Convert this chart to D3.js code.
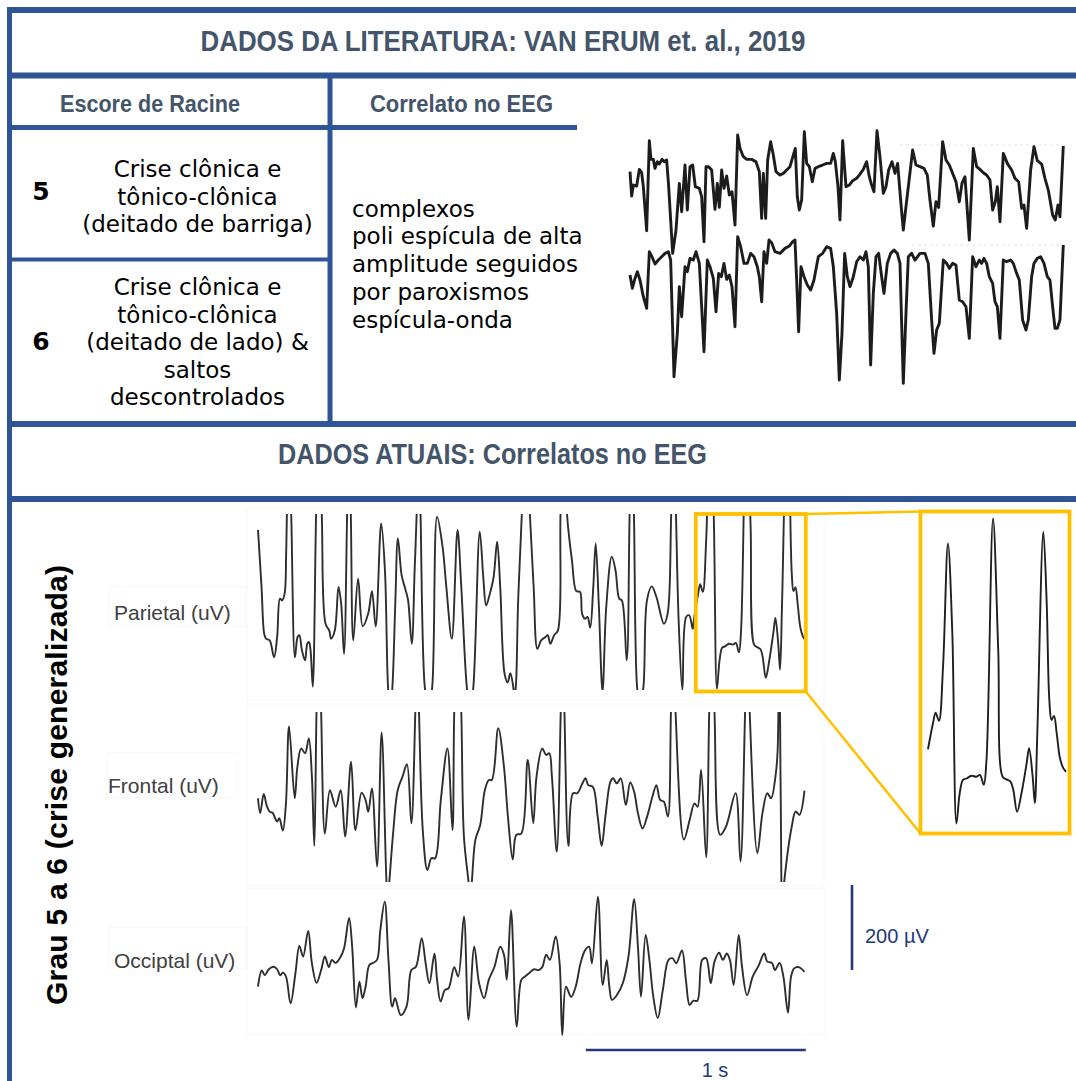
<!DOCTYPE html>
<html>
<head>
<meta charset="utf-8">
<script src="https://cdn.jsdelivr.net/npm/d3@7"></script>
<style>
  html, body { margin: 0; padding: 0; background: #fff; }
  svg { display: block; }
</style>
</head>
<body>
<svg id="fig" width="1076" height="1081" viewBox="0 0 1076 1081"></svg>
<script>
// ---------------- text content ----------------
const literatureTitle = "DADOS DA LITERATURA: VAN ERUM et. al., 2019";
const tableHeaders = ["Escore de Racine", "Correlato no EEG"];
const racineScores = ["5", "6"];
const racineDescriptions = [
  ["Crise clônica e", "tônico-clônica", "(deitado de barriga)"],
  ["Crise clônica e", "tônico-clônica", "(deitado de lado) &", "saltos", "descontrolados"]
];
const eegCorrelate = ["complexos", "poli espícula de alta", "amplitude seguidos", "por paroxismos", "espícula-onda"];
const currentTitle = "DADOS ATUAIS: Correlatos no EEG";
const gradeLabel = "Grau 5 a 6 (crise generalizada)";
const channelNames = ["Parietal (uV)", "Frontal (uV)", "Occiptal (uV)"];
const voltageBarValue = 200;      // µV
const voltageBarLabel = "200 µV";
const timeBarValue = 1000;        // ms
const timeBarLabel = "1 s";
const zoomWindow = [1990, 2490];  // ms, segment magnified on the right
const insetStart = 1982;          // ms, first sample drawn in the magnified view

// ---------------- literature traces (sample index, amplitude a.u.) ----------------
const literatureUpper = [
  [0,45],[5,-28],[10,5],[20,2],[28,52],[35,42],[40,0],[50,-132],[58,138],[63,82],[70,82],[75,55],
  [82,75],[88,68],[96,82],[103,75],[110,80],[116,0],[128,-200],[138,-130],[148,10],[155,-75],[165,65],
  [172,-70],[180,60],[188,65],[196,0],[208,-5],[215,-30],[222,-165],[228,60],[236,60],[245,50],[255,-68],
  [262,10],[268,-62],[275,50],[282,-5],[290,32],[298,-25],[306,-15],[315,-115],[323,155],[330,115],
  [340,90],[350,82],[365,82],[378,75],[388,45],[395,-95],[400,40],[407,-95],[413,80],[422,135],[430,95],
  [438,45],[450,35],[460,40],[470,50],[480,60],[490,95],[496,115],[502,-30],[508,-70],[515,-40],[523,165],
  [530,70],[538,60],[547,15],[555,55],[565,60],[578,65],[590,70],[602,70],[610,100],[616,75],[624,0],
  [630,-100],[638,138],[648,0],[658,5],[668,18],[680,25],[690,38],[700,52],[710,75],[718,30],[725,5],
  [732,-15],[741,168],[750,90],[760,-20],[768,0],[776,50],[786,75],[795,40],[803,70],[812,-40],[820,-130],
  [828,-60],[848,110],[858,65],[870,60],[882,55],[892,35],[900,-40],[910,-118],[918,-45],[926,-62],
  [938,135],[948,80],[958,65],[968,40],[978,15],[988,-45],[996,10],[1005,30],[1018,-160],[1030,115],
  [1040,60],[1050,52],[1060,42],[1070,35],[1080,20],[1088,-70],[1096,-45],[1102,0],[1110,-105],[1120,100],
  [1132,70],[1145,50],[1155,25],[1166,15],[1175,-65],[1182,-55],[1190,-125],[1202,50],[1212,120],[1222,78],
  [1235,68],[1245,25],[1255,-10],[1268,-85],[1276,-100],[1284,-55],[1290,-90],[1300,122]
];
const literatureLower = [
  [0,5],[7,-35],[14,-8],[22,15],[30,-10],[40,-60],[50,-95],[58,75],[66,60],[75,38],[85,50],[95,60],
  [105,70],[115,75],[122,50],[132,-300],[142,-170],[148,-30],[155,-120],[165,30],[172,15],[180,55],
  [190,50],[198,75],[208,40],[215,-90],[222,-225],[232,50],[240,30],[250,-5],[258,-105],[266,10],[274,0],
  [282,40],[290,-8],[298,5],[306,-30],[315,-150],[323,120],[332,90],[342,40],[352,40],[362,70],[372,60],
  [382,30],[388,0],[395,-75],[402,75],[410,40],[417,110],[425,102],[435,75],[450,70],[465,85],[478,92],
  [488,105],[495,110],[500,-10],[506,-165],[513,30],[522,0],[532,-25],[542,-40],[552,-10],[565,60],
  [578,70],[590,90],[602,85],[610,30],[620,-110],[628,-310],[636,-170],[644,70],[652,0],[660,-30],
  [670,0],[680,45],[690,60],[700,50],[708,75],[715,30],[722,-265],[730,-50],[738,60],[746,70],[755,0],
  [762,-50],[772,40],[782,70],[792,80],[802,70],[810,40],[820,-320],[828,-110],[835,60],[845,70],
  [855,50],[870,70],[885,70],[895,40],[905,-130],[912,-230],[920,-160],[928,-140],[940,50],[950,40],
  [958,25],[968,40],[978,35],[988,-70],[998,-75],[1008,-90],[1018,-185],[1028,60],[1038,30],[1048,50],
  [1055,40],[1062,55],[1070,40],[1078,0],[1088,-20],[1095,-75],[1102,-90],[1110,-185],[1120,50],
  [1130,45],[1142,50],[1150,40],[1160,10],[1168,-10],[1178,-130],[1188,-160],[1195,-130],[1205,0],
  [1212,40],[1222,55],[1232,60],[1242,40],[1252,0],[1260,-10],[1268,-90],[1275,-155],[1282,-155],
  [1290,-130],[1300,95]
];

// ---------------- recorded EEG (time ms, voltage µV) ----------------
const parietalTrace = [
  [0,165],[16,31],[28,-79],[36,-91],[53,-95],[73,-135],[87,-87],[100,3],[109,-1],[121,15],[128,110],
  [139,400],[151,200],[168,-135],[180,-87],[188,-83],[200,-119],[214,-142],[224,-103],[232,-99],
  [239,-119],[249,-204],[264,200],[276,430],[290,200],[307,-56],[324,-72],[332,-91],[349,-72],[366,31],
  [378,-9],[391,-127],[405,200],[413,420],[422,200],[433,-95],[455,50],[476,-62],[501,-32],[518,21],
  [535,-62],[560,180],[577,70],[591,-204],[601,-260],[611,-204],[624,-9],[636,145],[653,58],[670,25],
  [682,0],[699,-103],[712,70],[721,200],[731,420],[739,200],[758,-204],[775,-260],[792,-204],[814,196],
  [839,125],[856,31],[881,-91],[907,165],[924,31],[949,-204],[964,-260],[979,-204],[1008,161],[1025,46],
  [1037,-13],[1054,15],[1071,54],[1087,137],[1101,31],[1121,-174],[1135,-194],[1147,-172],[1160,-204],
  [1165,-230],[1172,-204],[1182,-9],[1199,200],[1218,450],[1236,200],[1253,31],[1270,-115],[1287,-95],
  [1307,-87],[1317,-83],[1329,-103],[1346,-83],[1363,-72],[1375,200],[1388,430],[1405,200],[1414,149],
  [1427,94],[1447,21],[1464,19],[1473,-32],[1486,-44],[1498,-40],[1510,-65],[1524,31],[1535,133],
  [1549,-9],[1566,-215],[1583,-16],[1608,102],[1625,70],[1642,3],[1654,-1],[1676,-142],[1689,200],
  [1699,430],[1709,200],[1723,-204],[1736,-250],[1752,-204],[1768,-1],[1790,32],[1811,7],[1845,-56],
  [1862,-32],[1878,200],[1889,420],[1900,200],[1912,-48],[1929,-212],[1946,-40],[1960,-36],[1976,-68],
  [1982,-44],[2000,13],[2010,37],[2022,19],[2037,139],[2055,413],[2071,213],[2086,-209],[2098,-142],
  [2110,-112],[2123,-109],[2141,-103],[2159,-105],[2172,-101],[2186,-123],[2196,-68],[2220,468],
  [2239,176],[2255,-105],[2269,-111],[2284,-116],[2294,-134],[2308,-183],[2324,-142],[2343,-75],
  [2352,-42],[2365,-105],[2373,-164],[2382,-9],[2404,439],[2416,287],[2426,65],[2434,21],[2443,30],
  [2453,-9],[2465,-64],[2477,-86],[2487,-94]
];
const frontalTrace = [
  [0,-3],[10,-38],[26,7],[40,-21],[54,-35],[66,-37],[78,-50],[87,-58],[97,-50],[113,-79],[127,-15],
  [141,166],[167,-3],[179,71],[196,114],[214,103],[231,138],[245,48],[256,-115],[266,200],[277,400],
  [287,200],[304,-86],[327,16],[353,-23],[376,16],[396,-93],[423,83],[443,-78],[471,10],[489,-7],
  [501,-35],[518,20],[541,-164],[562,152],[584,-199],[590,-240],[597,-199],[614,-86],[635,16],[657,48],
  [677,77],[697,-62],[715,200],[724,420],[732,200],[750,-86],[770,-172],[788,-144],[805,-144],[831,-7],
  [861,114],[884,-78],[892,200],[908,430],[924,200],[936,-93],[957,-199],[964,-235],[972,-199],[988,-101],
  [1010,-66],[1031,16],[1049,40],[1063,40],[1092,162],[1118,71],[1136,-46],[1158,-147],[1174,-89],
  [1197,-86],[1226,87],[1251,-62],[1266,48],[1292,114],[1310,99],[1324,103],[1336,48],[1358,-129],
  [1376,200],[1385,420],[1393,200],[1411,-115],[1432,9],[1452,9],[1471,28],[1489,44],[1501,28],[1522,24],
  [1544,-46],[1562,-115],[1579,-46],[1602,36],[1614,44],[1631,32],[1649,44],[1672,-19],[1692,34],
  [1710,12],[1727,-38],[1748,-74],[1771,-42],[1793,1],[1811,28],[1828,-7],[1845,-11],[1863,-46],
  [1877,200],[1887,420],[1898,200],[1936,-100],[1962,-54],[1984,-15],[1998,-23],[2014,64],[2037,-142],
  [2051,200],[2063,420],[2075,200],[2101,-89],[2127,-70],[2171,9],[2193,-152],[2214,200],[2225,420],
  [2235,200],[2270,-132],[2293,-38],[2315,9],[2332,-3],[2353,52],[2362,110],[2369,380],[2376,0],
  [2383,-260],[2392,-199],[2426,-70],[2444,-34],[2461,-42],[2484,15]
];
const occipitalTrace = [
  [0,-51],[17,-13],[31,-24],[49,-10],[71,-4],[87,-10],[101,-24],[113,-18],[127,-27],[148,-90],[170,-20],
  [188,45],[205,20],[228,80],[245,4],[266,-42],[287,-12],[304,20],[322,-5],[336,12],[353,5],[374,18],
  [391,39],[414,111],[428,43],[445,-100],[461,-39],[475,-78],[489,-51],[506,0],[523,5],[541,12],[556,82],
  [576,149],[593,12],[610,-98],[623,-78],[649,-118],[675,-98],[697,-12],[718,-4],[744,63],[762,4],
  [779,-43],[802,27],[814,-35],[830,-86],[849,-59],[866,-55],[892,-5],[910,-27],[936,114],[957,-129],
  [983,43],[1005,-43],[1028,-78],[1049,-35],[1075,-4],[1101,43],[1118,24],[1131,-35],[1150,129],
  [1176,-145],[1197,-35],[1214,-27],[1231,-20],[1254,-10],[1275,-12],[1292,-5],[1310,24],[1327,12],
  [1353,67],[1371,4],[1383,-165],[1400,-51],[1423,-75],[1444,-51],[1466,4],[1487,35],[1505,43],[1518,4],
  [1545,161],[1567,-47],[1585,12],[1597,-51],[1609,-82],[1631,-71],[1658,-43],[1684,20],[1710,155],
  [1727,43],[1741,-75],[1762,71],[1779,12],[1797,-75],[1817,-125],[1840,-59],[1866,12],[1884,16],
  [1901,4],[1927,34],[1945,-35],[1962,-94],[1979,-84],[1997,-84],[2019,12],[2037,16],[2058,-43],[2075,8],
  [2096,29],[2113,12],[2131,27],[2145,12],[2162,-47],[2185,71],[2200,-4],[2223,-71],[2249,-27],[2275,-2],
  [2301,27],[2315,8],[2336,5],[2350,-12],[2371,5],[2388,-27],[2409,-112],[2423,-27],[2437,-8],[2458,-5],
  [2484,-16]
];

// ---------------- drawing ----------------
const BLUE = "#2F5597";
const HEADING = "#44546A";
const NAVY = "#23397A";
const GOLD = "#FFC000";
const TRACE = "#2e2e2e";
const NARROW = "'Liberation Sans Narrow', 'Arial Narrow', 'Liberation Sans', sans-serif";
const VERDANA = "'DejaVu Sans', Verdana, sans-serif";
const ARIAL = "'Liberation Sans', Arial, sans-serif";

const svg = d3.select("#fig");
svg.append("rect").attr("width", 1076).attr("height", 1081).attr("fill", "#fff");
const defs = svg.append("defs");
defs.append("filter").attr("id", "scan").attr("x", "-5%").attr("y", "-5%").attr("width", "110%").attr("height", "110%")
  .append("feGaussianBlur").attr("stdDeviation", 0.75);

// ---- frame rules ----
const rules = svg.append("g").attr("stroke", BLUE).attr("stroke-linecap", "butt");
[[7, 10, 1076, 10, 6], [7, 75.5, 1076, 75.5, 6], [7, 127.5, 577, 127.5, 5], [7, 259.5, 330, 259.5, 4],
 [7, 424, 1076, 424, 6], [7, 499, 1076, 499, 6], [330, 75, 330, 424, 5], [9.5, 7, 9.5, 1081, 5]]
  .forEach(([x1, y1, x2, y2, w]) => {
    rules.append("line").attr("x1", x1).attr("y1", y1).attr("x2", x2).attr("y2", y2).attr("stroke-width", w);
  });

// ---- headings ----
function heading(text, cx, baseline, size, width) {
  svg.append("text").attr("x", cx).attr("y", baseline).attr("text-anchor", "middle")
    .attr("font-family", NARROW).attr("font-weight", "bold").attr("font-size", size)
    .attr("fill", HEADING).attr("textLength", width).attr("lengthAdjust", "spacingAndGlyphs")
    .text(text);
}
heading(literatureTitle, 503, 51, 30, 605);
heading(tableHeaders[0], 150, 112, 23, 180);
heading(tableHeaders[1], 461.5, 112, 23, 183);
heading(currentTitle, 492.5, 464, 29, 429);

// ---- Racine table ----
const rowBaselines = [[177, 204.5, 232], [295, 322.5, 350, 377.5, 405]];
const scoreBaselines = [200, 350];
racineScores.forEach((s, i) => {
  svg.append("text").attr("x", 41).attr("y", scoreBaselines[i]).attr("text-anchor", "middle")
    .attr("font-family", VERDANA).attr("font-weight", "bold").attr("font-size", 25).attr("fill", "#000").text(s);
  svg.append("g").selectAll("text").data(racineDescriptions[i]).join("text")
    .attr("x", 197.5).attr("y", (d, j) => rowBaselines[i][j]).attr("text-anchor", "middle")
    .attr("font-family", VERDANA).attr("font-size", 23).attr("fill", "#000").text(d => d);
});
svg.append("g").selectAll("text").data(eegCorrelate).join("text")
  .attr("x", 352).attr("y", (d, j) => 216.5 + j * 27.75)
  .attr("font-family", VERDANA).attr("font-size", 23).attr("fill", "#000").text(d => d);

// ---- literature EEG (two stacked channels) ----
const litX = d3.scaleLinear().domain([0, 1300]).range([630, 1063.3]);
const litYUpper = d3.scaleLinear().domain([0, 300]).range([186.7, 86.7]);
const litYLower = d3.scaleLinear().domain([0, 300]).range([276.7, 176.7]);
const litGroup = svg.append("g").attr("filter", "url(#scan)");
[[145, 900], [245, 912]].forEach(([y, x0]) => {
  litGroup.append("line").attr("x1", x0).attr("x2", 1063).attr("y1", y).attr("y2", y)
    .attr("stroke", "#e2e2e2").attr("stroke-width", 1).attr("stroke-dasharray", "3,3");
});
[[literatureUpper, litYUpper], [literatureLower, litYLower]].forEach(([data, ys]) => {
  litGroup.append("path").datum(data)
    .attr("d", d3.line().x(d => litX(d[0])).y(d => ys(d[1])).curve(d3.curveLinear))
    .attr("fill", "none").attr("stroke", "#1e1e1e").attr("stroke-width", 2.9).attr("stroke-linejoin", "round");
});

// ---- recorded EEG channels ----
const xT = d3.scaleLinear().domain([0, 1000]).range([258, 478]);
const channels = [
  { name: channelNames[0], data: parietalTrace, y0: 600, clip: [514, 690], label: [114, 619.5], frame: [247, 508, 577, 196], box: [109, 587, 136, 40] },
  { name: channelNames[1], data: frontalTrace, y0: 797, clip: [712, 882], label: [108, 792.5], frame: [247, 700, 577, 186], box: [107, 753, 130, 45] },
  { name: channelNames[2], data: occipitalTrace, y0: 965, clip: null, label: [114, 967.5], frame: [247, 889, 578, 146], box: [109, 927, 137, 42] }
];
const chLayer = svg.append("g");
channels.forEach((ch, i) => {
  const [fx, fy, fw, fh] = ch.frame;
  chLayer.append("rect").attr("x", fx).attr("y", fy).attr("width", fw).attr("height", fh)
    .attr("fill", "none").attr("stroke", "#f7f7f7").attr("stroke-width", 1);
  const [bx, by, bw, bh] = ch.box;
  chLayer.append("rect").attr("x", bx).attr("y", by).attr("width", bw).attr("height", bh)
    .attr("fill", "none").attr("stroke", "#f8f8f8").attr("stroke-width", 1);
  chLayer.append("text").attr("x", ch.label[0]).attr("y", ch.label[1])
    .attr("font-family", ARIAL).attr("font-size", 21).attr("fill", "#404040").text(ch.name);

  const y = d3.scaleLinear().domain([0, 200]).range([ch.y0, ch.y0 - 85]);
  const g = chLayer.append("g");
  if (ch.clip) {
    const id = "clip" + i;
    defs.append("clipPath").attr("id", id).append("rect")
      .attr("x", 240).attr("y", ch.clip[0]).attr("width", 590).attr("height", ch.clip[1] - ch.clip[0]);
    g.attr("clip-path", `url(#${id})`);
  }
  g.append("path").datum(ch.data)
    .attr("d", d3.line().x(d => xT(d[0])).y(d => y(d[1])).curve(d3.curveCatmullRom.alpha(0.5)))
    .attr("fill", "none").attr("stroke", TRACE).attr("stroke-width", 1.9).attr("stroke-linejoin", "round");
});

// ---- vertical grade label ----
svg.append("text").attr("transform", "translate(67,785) rotate(-90)").attr("text-anchor", "middle")
  .attr("font-family", ARIAL).attr("font-weight", "bold").attr("font-size", 30).attr("fill", "#000")
  .attr("textLength", 440).attr("lengthAdjust", "spacing").text(gradeLabel);

// ---- magnified segment of the parietal channel ----
const zx0 = xT(zoomWindow[0]), zx1 = xT(zoomWindow[1]);
const leftBox = { x: zx0, y: 514, w: zx1 - zx0, h: 177.5 };
const rightBox = { x: 920.5, y: 511.5, w: 149, h: 322 };
const insetX = d3.scaleLinear().domain([insetStart, 2487]).range([928, 1066]);
const insetY = d3.scaleLinear().domain([0, 200]).range([729.4, 639.3]);
svg.append("path").datum(parietalTrace.filter(d => d[0] >= insetStart))
  .attr("d", d3.line().x(d => insetX(d[0])).y(d => insetY(d[1])).curve(d3.curveCatmullRom.alpha(0.5)))
  .attr("fill", "none").attr("stroke", "#1f1f1f").attr("stroke-width", 1.9).attr("stroke-linejoin", "round");

const zoomG = svg.append("g").attr("fill", "none").attr("stroke", GOLD);
[leftBox, rightBox].forEach(b => {
  zoomG.append("rect").attr("x", b.x).attr("y", b.y).attr("width", b.w).attr("height", b.h).attr("stroke-width", 3.8);
});
zoomG.append("line").attr("x1", leftBox.x + leftBox.w).attr("y1", leftBox.y)
  .attr("x2", rightBox.x).attr("y2", rightBox.y).attr("stroke-width", 2.5);
zoomG.append("line").attr("x1", leftBox.x + leftBox.w).attr("y1", leftBox.y + leftBox.h)
  .attr("x2", rightBox.x).attr("y2", rightBox.y + rightBox.h).attr("stroke-width", 2.5);

// ---- scale bars ----
const barY = d3.scaleLinear().domain([0, voltageBarValue]).range([970, 885]);
svg.append("line").attr("x1", 852).attr("x2", 852).attr("y1", barY(0)).attr("y2", barY(voltageBarValue))
  .attr("stroke", NAVY).attr("stroke-width", 2.6);
svg.append("text").attr("x", 865).attr("y", 943).attr("font-family", ARIAL).attr("font-size", 20)
  .attr("fill", NAVY).text(voltageBarLabel);
const tb0 = 1490;
svg.append("line").attr("x1", xT(tb0)).attr("x2", xT(tb0 + timeBarValue)).attr("y1", 1050).attr("y2", 1050)
  .attr("stroke", NAVY).attr("stroke-width", 2.6);
svg.append("text").attr("x", 715).attr("y", 1077).attr("text-anchor", "middle").attr("font-family", ARIAL)
  .attr("font-size", 20).attr("fill", NAVY).text(timeBarLabel);
</script>
</body>
</html>
